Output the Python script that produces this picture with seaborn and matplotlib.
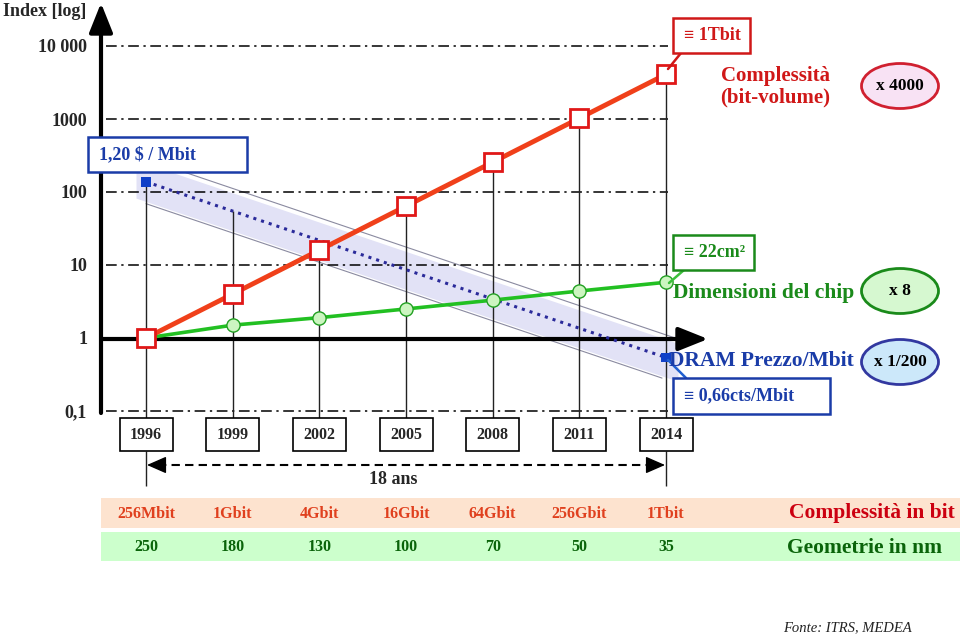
import numpy as np
import pandas as pd
import matplotlib
matplotlib.use("Agg")
import matplotlib.pyplot as plt
import matplotlib.transforms as mtransforms
from matplotlib.patches import Rectangle, Ellipse
from matplotlib.ticker import NullLocator
import seaborn as sns

# values
years = [1996, 1999, 2002, 2005, 2008, 2011, 2014]
complexity = [1, 4, 16, 64, 256, 1024, 4096]       # bit-volume index
chip_size = [1, 1.5, 1.9, 2.5, 3.3, 4.4, 5.8]       # chip area index
price_years = [1996, 2014]
price = [138, 0.54]                                 # DRAM price/Mbit index
bits_labels = ["256Mbit", "1Gbit", "4Gbit", "16Gbit", "64Gbit", "256Gbit", "1Tbit"]
nm_labels = ["250", "180", "130", "100", "70", "50", "35"]
y_ticks = [0.1, 1, 10, 100, 1000, 10000]
y_labels = ["0,1", "1", "10", "100", "1000", "10 000"]

sns.set_theme(style="white")
plt.rcParams["font.family"] = ["Liberation Serif", "DejaVu Serif"]
plt.rcParams["font.weight"] = "bold"

W, H = 960, 638
RED, ORANGE, GREEN, BLUE = "#D01818", "#F0401A", "#1A8A1A", "#1A3CA8"


def xd(px):
    # image pixel -> year
    return 1996 + (px - 146) * 18 / 520


def yd(py):
    # image pixel -> index value (log axis)
    return 10 ** ((338 - py) / 73)


def xp(year):
    return 146 + (year - 1996) * 520 / 18


fig = plt.figure(figsize=(W / 100, H / 100), dpi=100)
ax = fig.add_axes([101 / W, 0, 859 / W, 1])
ax.set_yscale("log")
ax.set_xlim(xd(101), xd(960))
ax.set_ylim(yd(638), yd(0))
for s in ax.spines.values():
    s.set_visible(False)
ax.set_xticks([])
ax.set_yticks(y_ticks)
ax.set_yticklabels(y_labels, fontsize=13, fontweight="bold")
ax.yaxis.set_minor_locator(NullLocator())
ax.tick_params(axis="y", length=0, pad=10)

# pixel coordinates of the image (origin top-left)
pix = mtransforms.Affine2D().scale(1 / W, -1 / H).translate(0, 1) + fig.transFigure

# price band
lp0, lp1 = np.log10(price)


def price_log(year):
    return lp0 + (lp1 - lp0) * (np.asarray(year) - 1996) / 18


bx = np.array([xd(136), xd(678)])
ax.fill_between(bx, 10 ** (price_log(bx) - 0.27), 10 ** (price_log(bx) + 0.25),
                color="#E2E2F6", lw=0, zorder=1)
ux = np.array([xd(163), xd(678)])
ax.plot(ux, 10 ** (price_log(ux) + 0.31), color="#8a8aa0", lw=0.8, zorder=2)
lx = np.array([xd(146), xd(662)])
ax.plot(lx, 10 ** (price_log(lx) - 0.3), color="#8a8aa0", lw=0.8, zorder=2)

# dash-dot grid
ax.hlines([0.1, 10, 100, 1000, 10000], xd(106), xd(668), colors="black",
          lw=1.1, linestyles=[(0, (7, 3, 1.5, 3))], zorder=2)

# vertical year guides
for yr, c in zip(years, complexity):
    top = max(c, 10 ** price_log(yr))
    ax.vlines(yr, yd(418), top, color="#222222", lw=1, zorder=3)
ax.vlines([years[0], years[-1]], yd(486), yd(451), color="#222222", lw=1, zorder=3)

# axes with arrows
arrow = dict(arrowstyle="-|>,head_length=0.9,head_width=0.36", lw=3,
             color="black", mutation_scale=20, shrinkA=0, shrinkB=0)
ax.annotate("", xy=(101, 3), xytext=(101, 413), xycoords=pix, textcoords=pix,
            arrowprops=arrow, zorder=4)
ax.annotate("", xy=(708, 339), xytext=(101, 339), xycoords=pix, textcoords=pix,
            arrowprops=arrow, zorder=4)
fig.text(3 / W, 1 - 11 / H, "Index [log]", fontsize=13, fontweight="bold", va="center")

# series
sns.lineplot(x=price_years, y=price, ax=ax, color="#2A2A9A", lw=2.2,
             linestyle=":", zorder=5)
sns.scatterplot(x=price_years, y=price, ax=ax, marker="s", s=50,
                color="#1040C8", edgecolor="none", zorder=8)
df_chip = pd.DataFrame({"year": years, "value": chip_size})
sns.lineplot(data=df_chip, x="year", y="value", ax=ax, color="#22C022", lw=2.6,
             marker="o", markersize=9.5, markerfacecolor="#CCF5C0",
             markeredgecolor="#22A022", markeredgewidth=1, zorder=6)
df_cpx = pd.DataFrame({"year": years, "value": complexity})
sns.lineplot(data=df_cpx, x="year", y="value", ax=ax, color=ORANGE, lw=3.5,
             marker="s", markersize=13, markerfacecolor="white",
             markeredgecolor="#E01818", markeredgewidth=2, zorder=7)
ax.set_xlabel("")
ax.set_ylabel("")

# year boxes
for yr in years:
    ax.add_patch(Rectangle((xp(yr) - 26.5, 418), 53, 33, transform=pix,
                           facecolor="white", edgecolor="black", lw=1.2,
                           clip_on=False, zorder=9))
    ax.text(xp(yr), 435, str(yr), transform=pix, ha="center", va="center",
            fontsize=11.5, fontweight="bold", zorder=10)

# 18 years span
ax.plot([xd(158), xd(654)], [yd(465)] * 2, color="black", lw=1.5,
        linestyle=(0, (4, 2.5)), zorder=4)
head = dict(arrowstyle="-|>,head_length=0.8,head_width=0.35", color="black",
            lw=1, mutation_scale=15, shrinkA=0, shrinkB=0)
ax.annotate("", xy=(147, 465), xytext=(162, 465), xycoords=pix, textcoords=pix, arrowprops=head)
ax.annotate("", xy=(665, 465), xytext=(650, 465), xycoords=pix, textcoords=pix, arrowprops=head)
ax.text(393, 479, "18 ans", transform=pix, ha="center", va="center", fontsize=13,
        fontweight="bold")

# labelled boxes
def label_box(x0, y0, x1, y1, text, color):
    ax.add_patch(Rectangle((x0, y0), x1 - x0, y1 - y0, transform=pix, facecolor="white",
                           edgecolor=color, lw=1.8, clip_on=False, zorder=9))
    ax.text(x0 + 11, (y0 + y1) / 2, text, transform=pix, ha="left", va="center",
            fontsize=13, fontweight="bold", color=color, zorder=10)


label_box(88, 137, 247, 172, "1,20 $ / Mbit", BLUE)
label_box(673, 18, 750, 53, "\u2261 1Tbit", RED)
label_box(673, 235, 754, 270, "\u2261 22cm\u00b2", GREEN)
label_box(673, 378, 830, 414, "\u2261 0,66cts/Mbit", BLUE)
ax.plot([xd(681), xd(668)], [yd(53), yd(69)], color=RED, lw=1.8, zorder=8)
ax.plot([xd(684), xd(669)], [yd(270), yd(283)], color="#3CC03C", lw=1.8, zorder=8)
ax.plot([xd(668), xd(686)], [yd(360), yd(378)], color="#2060D0", lw=1.8, zorder=8)

ax.text(775, 87, "Complessit\u00e0\n(bit-volume)", transform=pix, ha="center", va="center",
        fontsize=15, fontweight="bold", color=RED, linespacing=1.1)
ax.text(673, 293, "Dimensioni del chip", transform=pix, ha="left", va="center",
        fontsize=15.5, fontweight="bold", color=GREEN, zorder=10)
ax.text(669, 361, "DRAM Prezzo/Mbit", transform=pix, ha="left", va="center",
        fontsize=15.5, fontweight="bold", color=BLUE, zorder=10)

# ellipses with the factors
for cy, txt, fc, ec in [(86, "x 4000", "#F8E2F4", "#D02030"),
                        (291, "x 8", "#D6F8D0", "#1A8A1A"),
                        (362, "x 1/200", "#CCE8FA", "#3238A0")]:
    ax.add_patch(Ellipse((900, cy), 77, 45, transform=pix, facecolor=fc,
                         edgecolor=ec, lw=2, clip_on=False, zorder=9))
    ax.text(900, cy, txt, transform=pix, ha="center", va="center", fontsize=12.5,
            fontweight="bold", color="black", zorder=10)

# bottom table
ax.add_patch(Rectangle((101, 498), 859, 30, transform=pix, facecolor="#FDE3CF",
                       edgecolor="none", clip_on=False, zorder=1))
ax.add_patch(Rectangle((101, 532), 859, 29, transform=pix, facecolor="#CCFFCC",
                       edgecolor="none", clip_on=False, zorder=1))
for yr, b, n in zip(years, bits_labels, nm_labels):
    ax.text(xp(yr), 514, b, transform=pix, ha="center", va="center", fontsize=11.5,
            fontweight="bold", color="#E0401E", zorder=3)
    ax.text(xp(yr), 547, n, transform=pix, ha="center", va="center", fontsize=11.5,
            fontweight="bold", color="#0A640A", zorder=3)
ax.text(955, 513, "Complessit\u00e0 in bit", transform=pix, ha="right", va="center",
        fontsize=15.5, fontweight="bold", color="#CC0010", zorder=3)
ax.text(942, 548, "Geometrie in nm", transform=pix, ha="right", va="center",
        fontsize=15.5, fontweight="bold", color="#0A640A", zorder=3)

ax.text(783, 628, "Fonte: ITRS, MEDEA", transform=pix, ha="left", va="center",
        fontsize=10.5, fontstyle="italic", fontweight="normal", color="#222222")

fig.savefig("out.png", dpi=100)
